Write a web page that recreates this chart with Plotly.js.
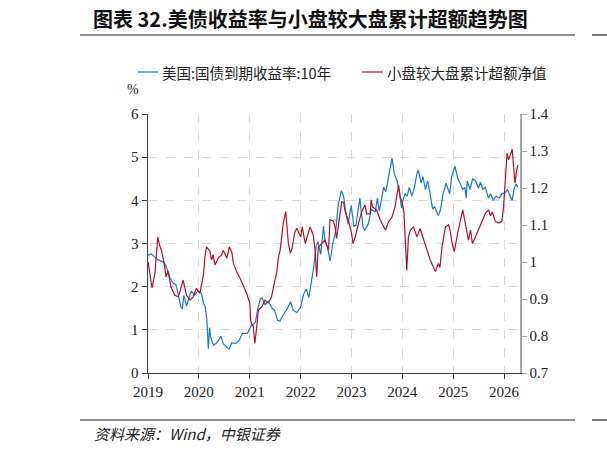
<!DOCTYPE html>
<html>
<head>
<meta charset="utf-8">
<script src="https://cdn.plot.ly/plotly-3.0.1.min.js"></script>
<style>html,body{margin:0;padding:0;background:#fff;}#chart{width:607px;height:451px;}</style>
</head>
<body>
<div id="chart"></div>
<script>
// US 10Y treasury yield (%), left axis
const yieldDates = ['2019-01-02','2019-01-25','2019-02-20','2019-03-15','2019-04-15','2019-05-01','2019-05-20','2019-06-05','2019-07-01','2019-07-20','2019-08-05','2019-08-25','2019-09-05','2019-09-15','2019-10-05','2019-10-25','2019-11-10','2019-12-01','2019-12-25',
'2020-01-20','2020-02-05','2020-02-15','2020-02-28','2020-03-09','2020-03-18','2020-03-25','2020-04-15','2020-05-10','2020-06-08','2020-06-25','2020-07-20','2020-08-05','2020-08-25','2020-09-20','2020-10-15','2020-11-10','2020-12-15',
'2021-01-12','2021-02-10','2021-02-25','2021-03-18','2021-03-30','2021-04-20','2021-05-15','2021-06-10','2021-06-28','2021-07-20','2021-08-05','2021-08-25','2021-09-25','2021-10-20','2021-11-10','2021-12-05','2021-12-30',
'2022-01-20','2022-02-10','2022-03-01','2022-03-20','2022-04-05','2022-04-20','2022-05-05','2022-05-25','2022-06-14','2022-06-25','2022-07-10','2022-08-01','2022-08-20','2022-09-10','2022-09-28','2022-10-20','2022-11-05','2022-11-20','2022-12-07','2022-12-30',
'2023-01-18','2023-02-02','2023-03-02','2023-03-24','2023-04-06','2023-05-01','2023-05-25','2023-06-20','2023-07-06','2023-07-20','2023-08-20','2023-09-05','2023-09-28','2023-10-19','2023-11-05','2023-11-25','2023-12-10','2023-12-27',
'2024-01-05','2024-01-20','2024-02-05','2024-02-20','2024-03-10','2024-03-28','2024-04-15','2024-04-25','2024-05-15','2024-05-28','2024-06-15','2024-07-01','2024-07-15','2024-08-05','2024-08-20','2024-09-16','2024-10-01','2024-10-20','2024-11-10','2024-11-28','2024-12-06','2024-12-20',
'2025-01-13','2025-02-01','2025-02-20','2025-03-10','2025-03-25','2025-04-04','2025-04-11','2025-05-01','2025-05-20','2025-06-10','2025-07-01','2025-07-15','2025-08-01','2025-08-20','2025-09-10','2025-09-25','2025-10-15','2025-11-05','2025-11-25','2025-12-15',
'2026-01-10','2026-01-25','2026-02-15','2026-02-28','2026-03-12','2026-03-28','2026-04-10'];
const yieldValues = [2.73,2.76,2.68,2.62,2.58,2.54,2.40,2.22,2.08,2.05,1.84,1.53,1.48,1.80,1.55,1.78,1.90,1.80,1.91,
1.84,1.60,1.55,1.22,0.56,1.05,0.85,0.64,0.70,0.85,0.68,0.60,0.55,0.70,0.68,0.75,0.92,0.92,
1.10,1.17,1.45,1.72,1.74,1.58,1.65,1.50,1.45,1.22,1.20,1.32,1.48,1.65,1.45,1.40,1.51,
1.80,1.95,1.75,2.15,2.45,2.90,3.05,2.75,3.40,3.05,2.95,2.60,3.00,3.30,3.90,4.22,4.10,3.75,3.45,3.88,
3.40,3.42,4.05,3.40,3.30,3.45,3.80,3.72,4.05,3.75,4.30,4.20,4.60,4.98,4.60,4.45,4.20,3.82,
4.00,4.15,4.10,4.30,4.10,4.30,4.62,4.70,4.40,4.55,4.25,4.45,4.20,3.80,3.85,3.65,3.78,4.15,4.40,4.20,4.15,4.55,
4.79,4.52,4.40,4.25,4.30,4.05,4.45,4.25,4.50,4.45,4.28,4.42,4.25,4.30,4.05,4.15,4.00,4.10,4.05,4.15,
4.18,4.25,4.08,4.00,4.25,4.38,4.30];

// Small-cap vs large-cap cumulative excess net value, right axis
const excessDates = ['2019-01-02','2019-01-30','2019-02-20','2019-03-12','2019-03-25','2019-04-08','2019-05-01','2019-05-10','2019-05-25','2019-06-15','2019-07-12','2019-08-07','2019-08-28','2019-09-10','2019-10-05','2019-10-30','2019-11-20','2019-12-15',
'2020-01-08','2020-02-03','2020-02-14','2020-02-25','2020-03-20','2020-04-01','2020-04-12','2020-04-26','2020-05-18','2020-06-12','2020-06-25','2020-07-20','2020-08-07','2020-08-25','2020-09-05','2020-09-28','2020-10-23','2020-11-18','2020-12-10',
'2021-01-01','2021-01-08','2021-01-26','2021-02-06','2021-02-20','2021-03-03','2021-03-28','2021-04-20','2021-05-15','2021-06-06','2021-06-20','2021-07-12','2021-07-26','2021-08-07','2021-08-18','2021-08-29','2021-09-16','2021-09-24','2021-10-05','2021-10-19','2021-10-30','2021-11-21','2021-12-05',
'2022-01-01','2022-01-12','2022-02-03','2022-02-28','2022-03-10','2022-04-01','2022-04-15','2022-04-26','2022-05-08','2022-06-02','2022-06-24','2022-07-20','2022-07-31','2022-08-25','2022-09-05','2022-09-16','2022-10-12','2022-10-23','2022-11-06','2022-11-17','2022-12-09',
'2023-01-01','2023-01-12','2023-01-26','2023-02-21','2023-03-15','2023-04-08','2023-04-20','2023-05-15','2023-05-22','2023-06-01','2023-07-01','2023-07-26','2023-08-18','2023-09-02','2023-09-24','2023-10-19','2023-11-10','2023-12-05','2023-12-16',
'2024-01-01','2024-01-12','2024-01-22','2024-02-02','2024-02-14','2024-02-28','2024-03-21','2024-04-15','2024-05-08','2024-06-02','2024-06-24','2024-07-20','2024-08-10','2024-08-25','2024-09-16','2024-09-27','2024-10-12','2024-11-06','2024-11-28','2024-12-09','2024-12-24',
'2025-01-08','2025-01-30','2025-02-20','2025-03-10','2025-03-28','2025-04-08','2025-04-20','2025-05-05','2025-05-18','2025-06-10','2025-07-01','2025-07-26','2025-08-20','2025-09-12','2025-09-24','2025-10-08','2025-10-30','2025-11-25','2025-12-15','2025-12-28',
'2026-01-10','2026-01-22','2026-02-02','2026-02-28','2026-03-10','2026-03-20','2026-04-01','2026-04-10'];
const excessValues = [1.000,0.930,0.970,1.068,1.045,1.032,0.987,0.960,0.975,0.933,0.910,0.906,0.933,0.951,0.910,0.897,0.905,0.929,
0.915,0.965,1.014,1.041,1.030,1.005,1.020,0.992,1.010,1.019,1.032,1.010,1.041,1.026,0.997,0.974,0.956,0.933,0.915,
0.888,0.839,0.825,0.780,0.825,0.870,0.879,0.897,0.890,0.906,0.933,0.969,1.014,1.032,1.068,1.105,1.136,1.105,1.050,1.024,1.035,1.082,1.091,
1.068,1.095,1.050,1.080,1.095,1.073,1.032,0.960,1.040,1.050,1.060,1.032,1.114,1.110,1.095,1.064,1.136,1.163,1.160,1.136,1.114,
1.078,1.050,1.065,1.105,1.136,1.154,1.130,1.130,1.168,1.149,1.140,1.114,1.095,1.086,1.109,1.122,1.149,1.208,1.177,
1.160,1.136,1.068,0.978,1.068,1.086,1.095,1.068,1.090,1.059,1.032,1.005,0.987,0.974,0.996,0.985,1.041,1.095,1.100,1.086,1.050,
1.028,1.073,1.114,1.141,1.105,1.082,1.059,1.086,1.050,1.068,1.086,1.109,1.132,1.141,1.125,1.135,1.109,1.105,1.110,1.149,
1.231,1.294,1.276,1.305,1.258,1.213,1.249,1.262];

const yearTicks = ['2019-01-01','2020-01-01','2021-01-01','2022-01-01','2023-01-01','2024-01-01','2025-01-01','2026-01-01'];
const yearLabels = ['2019','2020','2021','2022','2023','2024','2025','2026'];
const leftTicks = [0,1,2,3,4,5,6];
const rightTicks = [0.7,0.8,0.9,1.0,1.1,1.2,1.3,1.4];
const rightLabels = ['0.7','0.8','0.9','1','1.1','1.2','1.3','1.4'];
const seriesNames = ['美国:国债到期收益率:10年','小盘较大盘累计超额净值'];

const BLUE = '#1a78c8', RED = '#b0102c';
const serif = 'Liberation Serif, Times New Roman, serif';
const cjk = 'Noto Sans CJK SC, sans-serif';

// plot area in px: left 148, right 520, top 114, bottom 373
const PX = x => (x - 148) / 372;
const PY = y => (373 - y) / 259;

const traces = [
  {x: yieldDates, y: yieldValues, type: 'scatter', mode: 'lines', name: seriesNames[0],
   line: {color: BLUE, width: 1.2}, yaxis: 'y'},
  {x: excessDates, y: excessValues, type: 'scatter', mode: 'lines', name: seriesNames[1],
   line: {color: RED, width: 1.2}, yaxis: 'y2'}
];

const layout = {
  width: 607, height: 451,
  margin: {l: 148, r: 87, t: 114, b: 78},
  paper_bgcolor: '#fff', plot_bgcolor: '#fff',
  showlegend: false,
  title: {text: '<b>图表 32.美债收益率与小盘较大盘累计超额趋势图</b>', x: 93/607, xanchor: 'left', xref: 'container',
          y: 1 - 20/451, yanchor: 'middle', yref: 'container',
          font: {family: cjk, size: 20, color: '#111'}},
  xaxis: {type: 'date', range: ['2019-01-01', '2026-04-25'], tickvals: yearTicks, ticktext: yearLabels,
          showgrid: true, gridcolor: '#d9d9d9', griddash: 'dash', gridwidth: 1,
          showline: true, linecolor: '#404040', linewidth: 1, ticks: 'outside', ticklen: 5, tickcolor: '#404040',
          tickfont: {family: serif, size: 15, color: '#222'}, zeroline: false},
  yaxis: {range: [0, 6], tickvals: leftTicks, showgrid: true, gridcolor: '#d9d9d9', griddash: 'dash',
          showline: true, linecolor: '#404040', linewidth: 1.5, ticks: 'outside', ticklen: 5, tickcolor: '#404040',
          tickfont: {family: serif, size: 15, color: '#222'}, zeroline: false},
  yaxis2: {range: [0.7, 1.4], overlaying: 'y', side: 'right', tickvals: rightTicks, ticktext: rightLabels,
           showgrid: false, showline: true, linecolor: '#a6a6a6', linewidth: 1.5, ticks: 'outside', ticklen: 5,
           tickcolor: '#a6a6a6', tickfont: {family: serif, size: 15, color: '#222'}, zeroline: false},
  shapes: [
    {type: 'line', xref: 'paper', yref: 'paper', x0: PX(80), x1: PX(575), y0: PY(35), y1: PY(35), line: {color: '#222', width: 1.2}},
    {type: 'line', xref: 'paper', yref: 'paper', x0: PX(592), x1: PX(607), y0: PY(35), y1: PY(35), line: {color: '#222', width: 1.2}},
    {type: 'line', xref: 'paper', yref: 'paper', x0: PX(80), x1: PX(575), y0: PY(420), y1: PY(420), line: {color: '#222', width: 1.2}},
    {type: 'line', xref: 'paper', yref: 'paper', x0: PX(592), x1: PX(607), y0: PY(420), y1: PY(420), line: {color: '#222', width: 1.2}},
    {type: 'line', xref: 'paper', yref: 'paper', x0: PX(138), x1: PX(158), y0: PY(72), y1: PY(72), line: {color: BLUE, width: 1.2}},
    {type: 'line', xref: 'paper', yref: 'paper', x0: PX(362), x1: PX(383), y0: PY(72), y1: PY(72), line: {color: RED, width: 1.2}}
  ],
  annotations: [
    {text: seriesNames[0], xref: 'paper', yref: 'paper', x: PX(160), y: PY(72), xanchor: 'left', yanchor: 'middle',
     showarrow: false, font: {family: cjk, size: 14.5, color: '#222'}},
    {text: seriesNames[1], xref: 'paper', yref: 'paper', x: PX(385), y: PY(72), xanchor: 'left', yanchor: 'middle',
     showarrow: false, font: {family: cjk, size: 14.5, color: '#222'}},
    {text: '%', xref: 'paper', yref: 'paper', x: PX(133), y: PY(89), xanchor: 'center', yanchor: 'middle',
     showarrow: false, font: {family: serif, size: 14, color: '#222'}},
    {text: '<i>资料来源：Wind，中银证券</i>', xref: 'paper', yref: 'paper', x: PX(92), y: PY(433), xanchor: 'left', yanchor: 'middle',
     showarrow: false, font: {family: cjk, size: 15, color: '#222'}}
  ]
};

Plotly.newPlot('chart', traces, layout, {displayModeBar: false, staticPlot: true});
</script>
</body>
</html>
